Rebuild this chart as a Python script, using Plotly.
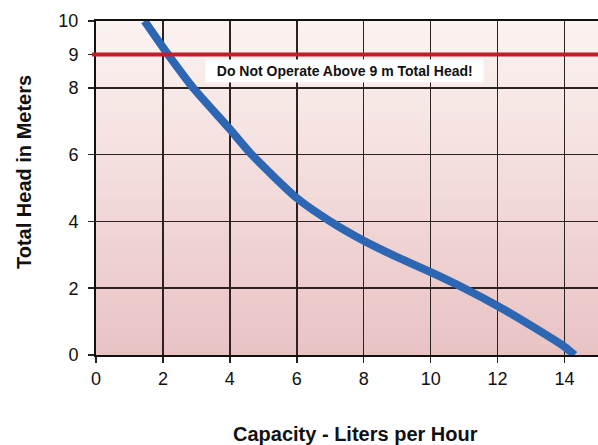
import plotly.graph_objects as go

# Pump curve data
capacity_lph = [1.45, 2.15, 2.9, 4.0, 4.65, 6.0, 7.0, 8.0, 9.0, 10.0, 11.0, 12.0, 13.0, 14.0, 14.3]
head_m = [10.0, 9.0, 8.0, 6.76, 6.0, 4.7, 4.0, 3.42, 2.93, 2.48, 2.0, 1.47, 0.88, 0.25, 0.0]

x_ticks = [0, 2, 4, 6, 8, 10, 12, 14]
y_ticks = [0, 2, 4, 6, 8, 9, 10]
max_head = 9
warning_text = "Do Not Operate Above 9 m Total Head!"
x_title = "Capacity - Liters per Hour"
y_title = "Total Head in Meters"

W, H = 598, 445
L, R, T, B = 96, 0, 21, 90
pw, ph = W - L - R, H - T - B

fig = go.Figure()
fig.add_trace(go.Scatter(
    x=capacity_lph, y=head_m, mode="lines",
    line=dict(color="#2d66b3", width=8, shape="spline", smoothing=0.6),
    hoverinfo="skip", showlegend=False,
))

# gradient background bands
top = (251, 243, 241)
bot = (233, 195, 195)
n = 60
shapes = []
for i in range(n):
    t = i / (n - 1)
    c = tuple(int(round(bot[k] + (top[k] - bot[k]) * t)) for k in range(3))
    shapes.append(dict(type="rect", xref="paper", yref="paper",
                       x0=0, x1=1, y0=i / n, y1=(i + 1) / n + 0.002,
                       fillcolor="rgb(%d,%d,%d)" % c, line=dict(width=0),
                       layer="below"))
# red limit line
shapes.append(dict(type="line", xref="paper", yref="y", x0=-4 / pw, x1=1,
                   y0=max_head, y1=max_head,
                   line=dict(color="#bf1e2b", width=4), layer="above"))

fig.update_layout(
    width=W, height=H,
    margin=dict(l=L, r=R, t=T, b=B, pad=0),
    paper_bgcolor="white", plot_bgcolor="rgba(0,0,0,0)",
    font=dict(family="Liberation Sans, Arial, Helvetica, sans-serif", size=18, color="#111"),
    shapes=shapes,
    showlegend=False,
)
fig.update_xaxes(
    range=[0, 15], tickvals=x_ticks, ticks="outside", ticklen=6, tickwidth=1.5,
    tickcolor="#222", showgrid=True, gridcolor="#2b2222", gridwidth=1.5,
    showline=True, linecolor="#111", linewidth=2, mirror=True, zeroline=False,
    tickfont=dict(size=18), automargin=False,
)
fig.update_yaxes(
    range=[0, 10], tickvals=y_ticks, ticks="outside", ticklen=6, tickwidth=1.5,
    tickcolor="#222", showgrid=True, gridcolor="#2b2222", gridwidth=1.5,
    showline=True, linecolor="#111", linewidth=2, mirror=True, zeroline=False,
    tickfont=dict(size=18), ticklabelstandoff=6, automargin=False,
)

fig.add_annotation(
    x=7.42, y=8.49, xref="x", yref="y",
    text="<b>&nbsp;&nbsp;%s&nbsp;&nbsp;</b>" % warning_text,
    showarrow=False, bgcolor="white", borderpad=3,
    font=dict(size=14, color="#111"),
)
fig.add_annotation(
    x=(355 - L) / pw, y=(T + ph - 434) / ph, xref="paper", yref="paper",
    text="<b>%s</b>" % x_title, showarrow=False, font=dict(size=20),
    xanchor="center", yanchor="middle",
)
fig.add_annotation(
    x=(24 - L) / pw, y=(T + ph - 172) / ph, xref="paper", yref="paper",
    text="<b>%s</b>" % y_title, showarrow=False, font=dict(size=20),
    textangle=-90, xanchor="center", yanchor="middle",
)

fig.write_html(
    "out.html",
    config={"displayModeBar": False, "staticPlot": True},
    post_script="document.body.style.margin='0';document.body.style.overflow='hidden';",
)
